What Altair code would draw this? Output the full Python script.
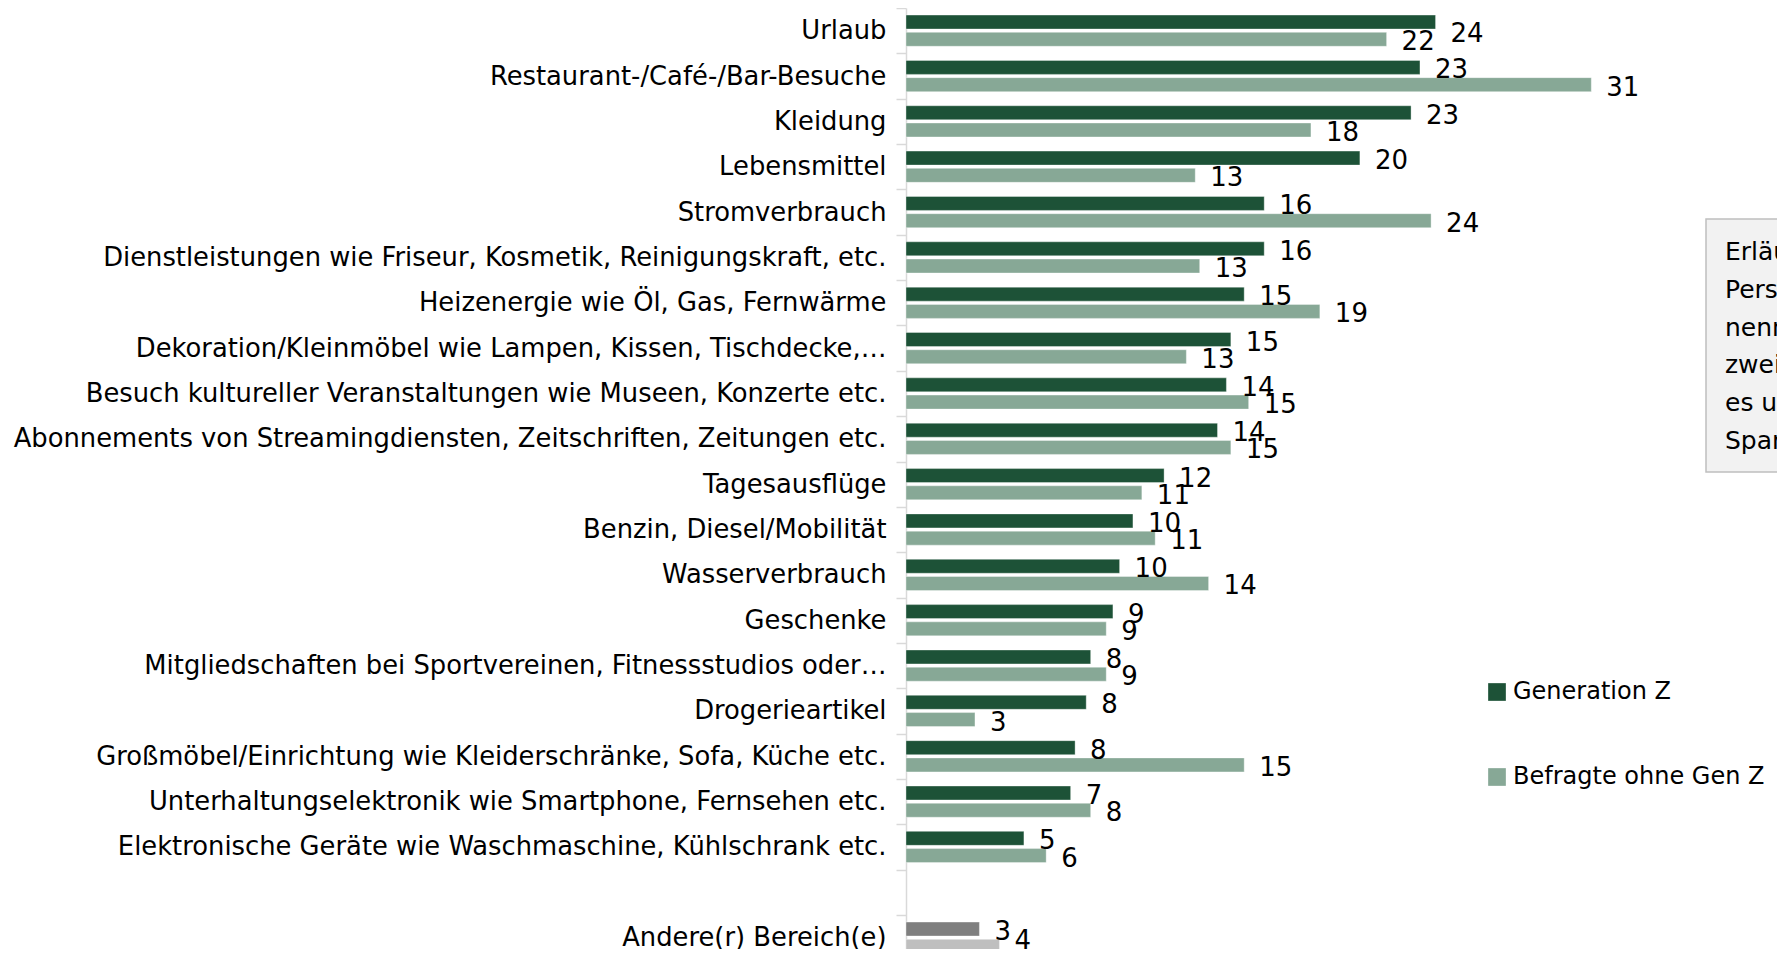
import altair as alt
import pandas as pd

categories = [
    "Urlaub",
    "Restaurant-/Café-/Bar-Besuche",
    "Kleidung",
    "Lebensmittel",
    "Stromverbrauch",
    "Dienstleistungen wie Friseur, Kosmetik, Reinigungskraft, etc.",
    "Heizenergie wie Öl, Gas, Fernwärme",
    "Dekoration/Kleinmöbel wie Lampen, Kissen, Tischdecke,…",
    "Besuch kultureller Veranstaltungen wie Museen, Konzerte etc.",
    "Abonnements von Streamingdiensten, Zeitschriften, Zeitungen etc.",
    "Tagesausflüge",
    "Benzin, Diesel/Mobilität",
    "Wasserverbrauch",
    "Geschenke",
    "Mitgliedschaften bei Sportvereinen, Fitnessstudios oder…",
    "Drogerieartikel",
    "Großmöbel/Einrichtung wie Kleiderschränke, Sofa, Küche etc.",
    "Unterhaltungselektronik wie Smartphone, Fernsehen etc.",
    "Elektronische Geräte wie Waschmaschine, Kühlschrank etc.",
]
gen_z = [23.8, 23.1, 22.7, 20.4, 16.1, 16.1, 15.2, 14.6, 14.4, 14.0,
         11.6, 10.2, 9.6, 9.3, 8.3, 8.1, 7.6, 7.4, 5.3]
ohne_gen_z = [21.6, 30.8, 18.2, 13.0, 23.6, 13.2, 18.6, 12.6, 15.4, 14.6,
              10.6, 11.2, 13.6, 9.0, 9.0, 3.1, 15.2, 8.3, 6.3]

gap_category = " "
other_category = "Andere(r) Bereich(e)"
other_gen_z = 3.3
other_ohne = 4.2

series = ["Generation Z", "Befragte ohne Gen Z"]
color_keys = ["Generation Z", "Befragte ohne Gen Z", "Andere – Generation Z", "Andere – ohne Gen Z"]
color_range = ["#1d5237", "#87a896", "#7f7f7f", "#bfbfbf"]

note_lines = ["Erläuterung:", "Personen, die", "nennen, dass sie", "zweistellig", "es um", "Sparmaßnahmen"]

rows = []
for c, a, b in zip(categories, gen_z, ohne_gen_z):
    rows.append({"cat": c, "series": series[0], "key": color_keys[0], "value": a})
    rows.append({"cat": c, "series": series[1], "key": color_keys[1], "value": b})
rows.append({"cat": other_category, "series": series[0], "key": color_keys[2], "value": other_gen_z})
rows.append({"cat": other_category, "series": series[1], "key": color_keys[3], "value": other_ohne})
df = pd.DataFrame(rows)
# label placement groups (Excel nudged two labels off-centre)
df["lab"] = "mid"
df.loc[(df["cat"] == "Urlaub") & (df["series"] == series[0]), "lab"] = "down"
df.loc[(df["cat"] == other_category) & (df["series"] == series[1]), "lab"] = "up"

domain_y = categories + [gap_category, other_category]
FONT = "DejaVu Sans"
FS = 26
STEP = 45.35
PX_PER_UNIT = 22.25
PAD_LEFT = 898
PLOT_W = 871
PLOT_H = 941

y_scale = alt.Scale(domain=domain_y, paddingInner=0, paddingOuter=0,
                    range=[0, STEP * len(domain_y)])
y_enc = alt.Y(
    "cat:N",
    scale=y_scale,
    axis=alt.Axis(
        title=None,
        labelFont=FONT,
        labelFontSize=25.8,
        labelColor="#000000",
        labelLimit=1000,
        labelPadding=10,
        tickBand="extent",
        tickSize=10,
        tickColor="#d9d9d9",
        tickWidth=1.5,
        domainColor="#d9d9d9",
        domainWidth=1.5,
    ),
)
y_plain = alt.Y("cat:N", scale=y_scale)
yoff_enc = alt.YOffset(
    "series:N",
    scale=alt.Scale(domain=series, paddingInner=0.19, paddingOuter=0.41),
)
x_enc = alt.X("value:Q", scale=alt.Scale(domain=[0, PLOT_W / PX_PER_UNIT]), axis=None)

base = alt.Chart(df)

bars = base.mark_bar(stroke="#ffffff", strokeWidth=0.6, strokeOpacity=0.6).encode(
    y=y_enc,
    yOffset=yoff_enc,
    x=x_enc,
    color=alt.Color(
        "key:N",
        scale=alt.Scale(domain=color_keys, range=color_range),
        legend=alt.Legend(
            title=None,
            values=series,
            orient="none",
            legendX=579,
            legendY=672,
            symbolType="square",
            symbolSize=313,
            symbolStrokeWidth=0,
            labelFont=FONT,
            labelFontSize=24,
            labelColor="#000000",
            labelOffset=4,
            rowPadding=61,
            padding=0,
            labelLimit=400,
        ),
    ),
)


def value_labels(group, dy):
    return base.transform_filter(alt.datum.lab == group).mark_text(
        align="left", baseline="middle", dx=15, dy=dy, font=FONT, fontSize=FS, color="#000000"
    ).encode(
        y=y_plain,
        yOffset=yoff_enc,
        x=x_enc,
        text=alt.Text("value:Q", format=".0f"),
    )


labels_mid = value_labels("mid", 3)
labels_down = value_labels("down", 12)
labels_up = value_labels("up", -5)

note_box = alt.Chart(pd.DataFrame({"n": [0]})).mark_rect(
    fill="#f2f2f2", stroke="#bfbfbf", strokeWidth=1.5
).encode(
    x=alt.value(800), x2=alt.value(1100), y=alt.value(211), y2=alt.value(464)
)
note_text = alt.Chart(pd.DataFrame({"n": [0]})).mark_text(
    align="left", baseline="alphabetic", font=FONT, fontSize=25, color="#000000", lineHeight=37.8
).encode(
    x=alt.value(819), y=alt.value(252), text=alt.value(note_lines)
)

chart = alt.layer(bars, labels_mid, labels_down, labels_up, note_box, note_text).properties(
    width=PLOT_W,
    height=PLOT_H,
    autosize=alt.AutoSizeParams(type="none"),
    padding={"left": PAD_LEFT, "top": 0, "right": 0, "bottom": 0},
).configure_view(stroke="transparent")

chart.save("out.html", embed_options={"renderer": "svg", "actions": False})
